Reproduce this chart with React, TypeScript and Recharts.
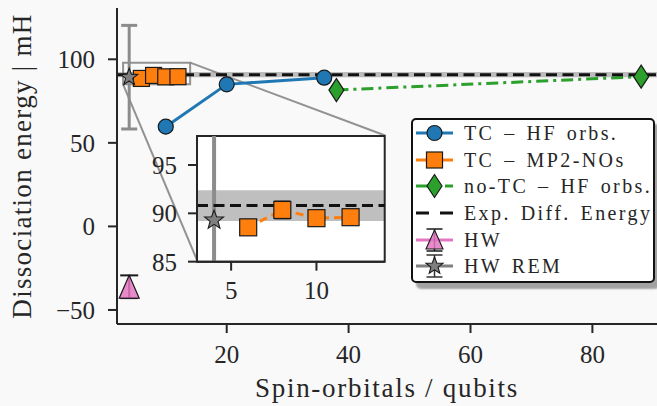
import React from 'react';
import {
  ComposedChart,
  Line,
  Scatter,
  XAxis,
  YAxis,
  ReferenceArea,
  ReferenceLine,
  ErrorBar,
  CartesianGrid,
} from 'recharts';

// ---------------- data ----------------
const tcHfQubits = [10, 20, 36];
const tcHfEnergy = [59.7, 85.0, 89.0];

const tcMp2Qubits = [6, 8, 10, 12];
const tcMp2Energy = [88.55, 90.35, 89.5, 89.6];
const tcMp2Err = [0, 0.9, 0, 0];

const noTcQubits = [38, 88];
const noTcEnergy = [81.6, 89.6];

const hwQubits = [4];
const hwEnergy = [-36.1];
const hwErr = [6.8];

const hwRemQubits = [4];
const hwRemEnergy = [89.3];
const hwRemErr = [31];

const expEnergy = 90.8;
const chemAcc = 1.6;

const MAIN_X_DOMAIN = [2, 90.6];
const MAIN_Y_DOMAIN = [-58.4, 130.7];
const X_TICKS = [20, 40, 60, 80];
const Y_TICKS = [-50, 0, 50, 100];

const INSET_X_DOMAIN = [3, 14];
const INSET_Y_DOMAIN = [85, 98];
const INSET_X_TICKS = [5, 10];
const INSET_Y_TICKS = [85, 90, 95];
// where the inset sits, expressed in main-axes data coordinates
const INSET_BOX = { x1: 15.2, x2: 46.0, y1: -20.8, y2: 54.4 };

const X_LABEL = 'Spin-orbitals / qubits';
const Y_LABEL = 'Dissociation energy | mH';

const LEGEND_LABELS = [
  'TC – HF orbs.',
  'TC – MP2-NOs',
  'no-TC – HF orbs.',
  'Exp. Diff. Energy',
  'HW',
  'HW REM',
];

// ---------------- style ----------------
const FONT = '"Liberation Serif", "Times New Roman", serif';
const AX = '#262626';
const BG = '#f9f9f9';
const BLUE = '#1f77b4';
const ORANGE = '#ff7f0e';
const GREEN = '#2ca02c';
const PINK = '#e377c2';
const GRAY = '#7f7f7f';
const EDGE = '#1a1a1a';

const W = 657;
const H = 406;
const PLOT_L = 117;
const PLOT_T = 8;
const PLOT_W = W - PLOT_L;
const PLOT_H = 316;

const toPx = (x: number) =>
  PLOT_L + ((x - MAIN_X_DOMAIN[0]) / (MAIN_X_DOMAIN[1] - MAIN_X_DOMAIN[0])) * PLOT_W;
const toPy = (y: number) =>
  PLOT_T + ((MAIN_Y_DOMAIN[1] - y) / (MAIN_Y_DOMAIN[1] - MAIN_Y_DOMAIN[0])) * PLOT_H;

const zip = (xs: number[], ys: number[], es?: number[]) =>
  xs.map((x, i) => ({ x, y: ys[i], err: es ? es[i] : 0 }));

const tcHfData = zip(tcHfQubits, tcHfEnergy);
const tcMp2Data = zip(tcMp2Qubits, tcMp2Energy, tcMp2Err);
const tcMp2ErrData = tcMp2Data.filter((d) => d.err > 0);
const noTcData = zip(noTcQubits, noTcEnergy);
const hwData = zip(hwQubits, hwEnergy, hwErr);
const hwRemData = zip(hwRemQubits, hwRemEnergy, hwRemErr);

const fmtTick = (v: number) => (v < 0 ? '\u2212' + Math.abs(v) : String(v));

// ---------------- marker shapes ----------------
const starPoints = (cx: number, cy: number, R: number, r: number) => {
  const pts: string[] = [];
  for (let i = 0; i < 10; i++) {
    const a = -Math.PI / 2 + (i * Math.PI) / 5;
    const rad = i % 2 === 0 ? R : r;
    pts.push(`${cx + rad * Math.cos(a)},${cy + rad * Math.sin(a)}`);
  }
  return pts.join(' ');
};

const circleDot = (p: any) => (
  <circle key={`c-${p.index}`} cx={p.cx} cy={p.cy} r={7.5} fill={BLUE} stroke={EDGE} strokeWidth={1.2} />
);
const squareDot = (s: number) => (p: any) => (
  <rect
    key={`s-${p.index}`}
    x={p.cx - s / 2}
    y={p.cy - s / 2}
    width={s}
    height={s}
    fill={ORANGE}
    stroke={EDGE}
    strokeWidth={1.2}
  />
);
const diamondDot = (p: any) => (
  <polygon
    key={`d-${p.index}`}
    points={`${p.cx},${p.cy - 11.5} ${p.cx + 7.5},${p.cy} ${p.cx},${p.cy + 11.5} ${p.cx - 7.5},${p.cy}`}
    fill={GREEN}
    stroke={EDGE}
    strokeWidth={1.2}
  />
);
const triangleShape = (p: any) => (
  <polygon
    points={`${p.cx},${p.cy - 11.5} ${p.cx + 10},${p.cy + 11.5} ${p.cx - 10},${p.cy + 11.5}`}
    fill={PINK}
    fillOpacity={0.85}
    stroke={EDGE}
    strokeWidth={1.2}
  />
);
const starShape = (R: number) => (p: any) => (
  <polygon points={starPoints(p.cx, p.cy, R, R * 0.42)} fill={GRAY} stroke={EDGE} strokeWidth={1.1} />
);
const emptyShape = () => <g />;

// ---------------- legend ----------------
const LegendHandle = ({ i }: { i: number }) => {
  const y = 13;
  const x1 = 3;
  const x2 = 40;
  const cx = (x1 + x2) / 2;
  if (i === 0)
    return (
      <g>
        <line x1={x1} x2={x2} y1={y} y2={y} stroke={BLUE} strokeWidth={3} />
        <circle cx={cx} cy={y} r={7.5} fill={BLUE} stroke={EDGE} strokeWidth={1.2} />
      </g>
    );
  if (i === 1)
    return (
      <g>
        <line x1={x1} x2={x2} y1={y} y2={y} stroke={ORANGE} strokeWidth={3} />
        <rect x={cx - 8} y={y - 8} width={16} height={16} fill={ORANGE} stroke={EDGE} strokeWidth={1.2} />
      </g>
    );
  if (i === 2)
    return (
      <g>
        <line x1={x1} x2={x2} y1={y} y2={y} stroke={GREEN} strokeWidth={3} strokeDasharray="14 6 3 6" />
        <polygon
          points={`${cx},${y - 11.5} ${cx + 7.5},${y} ${cx},${y + 11.5} ${cx - 7.5},${y}`}
          fill={GREEN}
          stroke={EDGE}
          strokeWidth={1.2}
        />
      </g>
    );
  if (i === 3)
    return <line x1={x1} x2={x2} y1={y} y2={y} stroke="#111" strokeWidth={3} strokeDasharray="13 11" />;
  if (i === 4)
    return (
      <g>
        <line x1={x1} x2={x2} y1={y} y2={y} stroke={PINK} strokeWidth={3} />
        <line x1={cx} x2={cx} y1={y - 11} y2={y + 11} stroke={EDGE} strokeWidth={1.5} />
        <line x1={cx - 8} x2={cx + 8} y1={y - 11} y2={y - 11} stroke={EDGE} strokeWidth={1.5} />
        <line x1={cx - 8} x2={cx + 8} y1={y + 11} y2={y + 11} stroke={EDGE} strokeWidth={1.5} />
        <polygon
          points={`${cx},${y - 10} ${cx + 8.5},${y + 9} ${cx - 8.5},${y + 9}`}
          fill={PINK}
          fillOpacity={0.85}
          stroke={EDGE}
          strokeWidth={1.1}
        />
      </g>
    );
  return (
    <g>
      <line x1={x1} x2={x2} y1={y} y2={y} stroke={GRAY} strokeWidth={3} />
      <line x1={cx} x2={cx} y1={y - 11} y2={y + 11} stroke="#333" strokeWidth={1.5} />
      <line x1={cx - 8} x2={cx + 8} y1={y - 11} y2={y - 11} stroke="#333" strokeWidth={1.5} />
      <line x1={cx - 8} x2={cx + 8} y1={y + 11} y2={y + 11} stroke="#333" strokeWidth={1.5} />
      <polygon points={starPoints(cx, y, 9, 3.8)} fill={GRAY} stroke={EDGE} strokeWidth={1.1} />
    </g>
  );
};

const LegendBox = () => (
  <div
    style={{
      position: 'absolute',
      left: 411,
      top: 118,
      width: 244,
      height: 165,
      boxSizing: 'border-box',
      background: '#ffffff',
      border: '2px solid #111',
      borderRadius: 5,
      boxShadow: '5px 6px 2px rgba(0,0,0,0.35)',
      fontFamily: FONT,
      color: AX,
      overflow: 'hidden',
    }}
  >
    {LEGEND_LABELS.map((lab, i) => (
      <div key={lab} style={{ position: 'relative', height: 26.7, display: 'flex', alignItems: 'center' }}>
        <svg width={44} height={26} style={{ position: 'absolute', left: 0, top: 0 }}>
          <LegendHandle i={i} />
        </svg>
        <span
          style={{
            position: 'absolute',
            left: 51,
            top: 2,
            fontSize: 20,
            lineHeight: '22px',
            letterSpacing: '2.4px',
            wordSpacing: '2.5px',
            whiteSpace: 'nowrap',
          }}
        >
          {lab}
        </span>
      </div>
    ))}
  </div>
);

// ---------------- inset ----------------
const IY_W = 80;
const IX_H = 44;
const INSET_PAD = 2;

const InsetChart = () => {
  const left = toPx(INSET_BOX.x1);
  const right = toPx(INSET_BOX.x2);
  const top = toPy(INSET_BOX.y2);
  const bottom = toPy(INSET_BOX.y1);
  const w = right - left;
  const h = bottom - top;
  return (
    <div style={{ position: 'absolute', left: left - IY_W, top: top - INSET_PAD }}>
      <ComposedChart
        width={IY_W + w + INSET_PAD}
        height={INSET_PAD + h + IX_H}
        margin={{ top: INSET_PAD, right: INSET_PAD, bottom: 0, left: 0 }}
      >
        <CartesianGrid horizontal={false} vertical={false} fill="#ffffff" />
        <XAxis
          type="number"
          dataKey="x"
          domain={INSET_X_DOMAIN}
          ticks={INSET_X_TICKS}
          interval={0}
          allowDataOverflow
          height={IX_H}
          tickSize={9}
          tickMargin={11}
          axisLine={{ stroke: AX, strokeWidth: 2 }}
          tickLine={{ stroke: AX, strokeWidth: 2 }}
          tick={{ fill: AX, fontSize: 25, fontFamily: FONT }}
        />
        <YAxis
          type="number"
          domain={INSET_Y_DOMAIN}
          ticks={INSET_Y_TICKS}
          interval={0}
          allowDataOverflow
          width={IY_W}
          tickSize={9}
          tickMargin={11}
          axisLine={{ stroke: AX, strokeWidth: 2 }}
          tickLine={{ stroke: AX, strokeWidth: 2 }}
          tick={{ fill: AX, fontSize: 25, fontFamily: FONT }}
        />
        <ReferenceArea
          y1={expEnergy - chemAcc}
          y2={expEnergy + chemAcc}
          fill="#808080"
          fillOpacity={0.5}
          stroke="none"
          ifOverflow="hidden"
        />
        {hwRemData.map((d) => (
          <ReferenceLine
            key={`rem-err-${d.x}`}
            segment={[
              { x: d.x, y: d.y - d.err },
              { x: d.x, y: d.y + d.err },
            ]}
            stroke="#8c8c8c"
            strokeWidth={4}
            ifOverflow="hidden"
          />
        ))}
        <Scatter data={hwRemData} dataKey="y" shape={starShape(10)} isAnimationActive={false} />
        <Line
          data={tcMp2Data}
          dataKey="y"
          type="linear"
          stroke={ORANGE}
          strokeWidth={3}
          strokeDasharray="8 5"
          dot={squareDot(17)}
          activeDot={false}
          isAnimationActive={false}
        />
        <Scatter data={tcMp2ErrData} dataKey="y" shape={emptyShape} isAnimationActive={false}>
          <ErrorBar dataKey="err" direction="y" width={8} stroke="#222" strokeWidth={1.5} />
        </Scatter>
        <ReferenceLine y={expEnergy} stroke="#111" strokeWidth={3} strokeDasharray="11 5.5" />
        <ReferenceArea
          x1={INSET_X_DOMAIN[0]}
          x2={INSET_X_DOMAIN[1]}
          y1={INSET_Y_DOMAIN[0]}
          y2={INSET_Y_DOMAIN[1]}
          fill="none"
          stroke={AX}
          strokeWidth={2}
        />
      </ComposedChart>
    </div>
  );
};

// ---------------- main ----------------
export default function App() {
  return (
    <div
      style={{
        position: 'absolute',
        left: 0,
        top: 0,
        width: W,
        height: H,
        background: BG,
        overflow: 'hidden',
      }}
    >
      <ComposedChart width={W} height={H} margin={{ top: PLOT_T, right: 0, bottom: 0, left: 0 }}>
        <XAxis
          type="number"
          dataKey="x"
          domain={MAIN_X_DOMAIN}
          ticks={X_TICKS}
          interval={0}
          allowDataOverflow
          height={H - PLOT_T - PLOT_H}
          tickSize={9}
          tickMargin={12}
          axisLine={{ stroke: AX, strokeWidth: 2 }}
          tickLine={{ stroke: AX, strokeWidth: 2 }}
          tick={{ fill: AX, fontSize: 25, fontFamily: FONT }}
          label={{
            value: X_LABEL,
            position: 'insideBottom',
            offset: 9,
            style: { fill: AX, fontSize: 27, fontFamily: FONT, letterSpacing: '1.7px' },
          }}
        />
        <YAxis
          type="number"
          domain={MAIN_Y_DOMAIN}
          ticks={Y_TICKS}
          interval={0}
          allowDataOverflow
          width={PLOT_L}
          tickSize={9}
          tickMargin={13}
          tickFormatter={fmtTick}
          axisLine={{ stroke: AX, strokeWidth: 2 }}
          tickLine={{ stroke: AX, strokeWidth: 2 }}
          tick={{ fill: AX, fontSize: 25, fontFamily: FONT }}
          label={{
            value: Y_LABEL,
            angle: -90,
            position: 'insideLeft',
            offset: 21,
            style: { fill: AX, fontSize: 27, fontFamily: FONT, letterSpacing: '1.3px', textAnchor: 'middle' },
          }}
        />
        <ReferenceArea
          y1={expEnergy - chemAcc}
          y2={expEnergy + chemAcc}
          fill="#808080"
          fillOpacity={0.5}
          stroke="none"
          ifOverflow="hidden"
        />
        <ReferenceArea
          x1={INSET_X_DOMAIN[0]}
          x2={INSET_X_DOMAIN[1]}
          y1={INSET_Y_DOMAIN[0]}
          y2={INSET_Y_DOMAIN[1]}
          fill="none"
          stroke="#808080"
          strokeOpacity={0.85}
          strokeWidth={2}
        />
        <ReferenceLine
          segment={[
            { x: INSET_X_DOMAIN[1], y: INSET_Y_DOMAIN[1] },
            { x: INSET_BOX.x2, y: INSET_BOX.y2 },
          ]}
          stroke="#808080"
          strokeOpacity={0.85}
          strokeWidth={2}
          ifOverflow="visible"
        />
        <ReferenceLine
          segment={[
            { x: INSET_X_DOMAIN[0], y: INSET_Y_DOMAIN[0] },
            { x: INSET_BOX.x1, y: INSET_BOX.y1 },
          ]}
          stroke="#808080"
          strokeOpacity={0.85}
          strokeWidth={2}
          ifOverflow="visible"
        />
        <Line
          data={tcHfData}
          dataKey="y"
          type="linear"
          stroke={BLUE}
          strokeWidth={3}
          dot={circleDot}
          activeDot={false}
          isAnimationActive={false}
        />
        <Line
          data={tcMp2Data}
          dataKey="y"
          type="linear"
          stroke={ORANGE}
          strokeWidth={3}
          strokeDasharray="8 5"
          dot={squareDot(16)}
          activeDot={false}
          isAnimationActive={false}
        />
        <Line
          data={noTcData}
          dataKey="y"
          type="linear"
          stroke={GREEN}
          strokeWidth={3}
          strokeDasharray="12 5 3 5"
          dot={diamondDot}
          activeDot={false}
          isAnimationActive={false}
        />
        <Scatter data={hwData} dataKey="y" shape={triangleShape} isAnimationActive={false}>
          <ErrorBar dataKey="err" direction="y" width={9} stroke={EDGE} strokeWidth={2} />
        </Scatter>
        <Scatter data={hwRemData} dataKey="y" shape={starShape(9)} isAnimationActive={false}>
          <ErrorBar dataKey="err" direction="y" width={8} stroke="#8c8c8c" strokeWidth={3} />
        </Scatter>
        <ReferenceLine y={expEnergy} stroke="#111" strokeWidth={3} strokeDasharray="11 5.5" />
      </ComposedChart>
      <InsetChart />
      <LegendBox />
    </div>
  );
}
